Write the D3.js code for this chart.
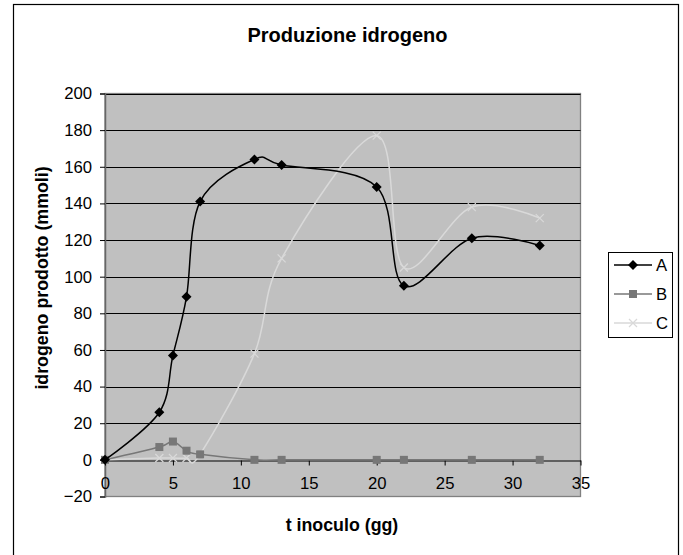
<!DOCTYPE html>
<html><head><meta charset="utf-8">
<script src="https://cdn.jsdelivr.net/npm/d3@7/dist/d3.min.js"></script>
<style>body{margin:0;background:#fff}svg{display:block}text{font-family:"Liberation Sans",Arial,sans-serif}</style>
</head><body><svg id="c" width="683" height="555"></svg>
<script>
const xValues = [0, 4, 5, 6, 7, 11, 13, 20, 22, 27, 32];
const seriesA = [0, 26, 57, 89, 141, 164, 161, 149, 95, 121, 117];
const seriesB = [0, 7, 10, 5, 3, 0, 0, 0, 0, 0, 0];
const seriesC = [0, 1, 1, 1, 3, 58, 110, 177, 105, 138, 132];
const seriesNames = ["A", "B", "C"];
const xTicks = [0, 5, 10, 15, 20, 25, 30, 35];
const yTicks = [-20, 0, 20, 40, 60, 80, 100, 120, 140, 160, 180, 200];
const title = "Produzione idrogeno";
const xTitle = "t inoculo (gg)";
const yTitle = "idrogeno prodotto (mmoli)";

const svg = d3.select("#c");
const P = {l:105, r:580.5, t:93.5, b:496.5};
const x = d3.scaleLinear().domain([0,35]).range([P.l,P.r]);
const y = d3.scaleLinear().domain([-20,200]).range([P.b,P.t]);

// outer border
svg.append("rect").attr("x",13.5).attr("y",4.5).attr("width",665).attr("height",600)
  .attr("fill","#fff").attr("stroke","#000").attr("stroke-width",1.2);

// plot area
svg.append("rect").attr("x",P.l).attr("y",P.t).attr("width",P.r-P.l).attr("height",P.b-P.t)
  .attr("fill","#c0c0c0").attr("stroke","#808080").attr("stroke-width",1.3);

// gridlines
svg.append("g").selectAll("line").data(yTicks.filter(d=>d>-20 && d!==0)).join("line")
  .attr("x1",P.l).attr("x2",P.r).attr("y1",d=>Math.round(y(d))+0.5).attr("y2",d=>Math.round(y(d))+0.5)
  .attr("stroke","#000").attr("stroke-width",1);

// y axis
const yAxis = d3.axisLeft(y).tickValues(yTicks).tickSize(5).tickPadding(8);
const gy = svg.append("g").attr("transform",`translate(${P.l},0)`).call(yAxis);
gy.select(".domain").attr("stroke","#666").attr("stroke-width",1.5);
gy.selectAll(".tick line").attr("stroke","#000");
gy.selectAll("text").attr("font-size",16.7).attr("fill","#000").attr("font-family","Liberation Sans, Arial");

// x axis at y=0
const xAxis = d3.axisBottom(x).tickValues(xTicks).tickSize(5).tickPadding(12).tickSizeOuter(0);
const gx = svg.append("g").attr("transform",`translate(0,${Math.round(y(0))+0.5})`).call(xAxis);
gx.select(".domain").attr("stroke","#000");
gx.selectAll(".tick line").attr("stroke","#000");
gx.selectAll("text").attr("font-size",16.7).attr("fill","#000").attr("font-family","Liberation Sans, Arial");

const colors = ["#000000","#777777","#d9d9d9"];
const curve = d3.curveCardinal.tension(0);
const data = [seriesA, seriesB, seriesC].map(s => xValues.map((xv,i)=>[xv,s[i]]));
const line = d3.line().x(d=>x(d[0])).y(d=>y(d[1])).curve(curve);

function marker(g, k, cx, cy){
  if(k===0){
    g.append("path").attr("d",`M${cx},${cy-5}L${cx+5},${cy}L${cx},${cy+5}L${cx-5},${cy}Z`).attr("fill",colors[0]);
  } else if(k===1){
    g.append("rect").attr("x",cx-4).attr("y",cy-4).attr("width",8).attr("height",8).attr("fill",colors[1]);
  } else {
    g.append("path").attr("d",`M${cx-4},${cy-4}L${cx+4},${cy+4}M${cx+4},${cy-4}L${cx-4},${cy+4}`)
      .attr("stroke",colors[2]).attr("stroke-width",1.2);
  }
}

[2,1,0].forEach(k=>{
  const g = svg.append("g");
  g.append("path").datum(data[k]).attr("d",line).attr("fill","none").attr("stroke",colors[k]).attr("stroke-width",1.5);
  data[k].forEach(d=>marker(g,k,x(d[0]),y(d[1])));
});

// legend
svg.append("rect").attr("x",608.5).attr("y",252.5).attr("width",64).attr("height",85)
  .attr("fill","#fff").attr("stroke","#000").attr("stroke-width",1);
seriesNames.forEach((n,k)=>{
  const ly = 265 + k*29;
  const g = svg.append("g");
  g.append("line").attr("x1",614).attr("x2",652).attr("y1",ly).attr("y2",ly).attr("stroke",colors[k]).attr("stroke-width",1.5);
  marker(g,k,633,ly);
  g.append("text").attr("x",656).attr("y",ly+6).attr("font-size",16.7).text(n);
});

// titles
svg.append("text").attr("x",347.5).attr("y",42).attr("text-anchor","middle").attr("font-weight","bold")
  .attr("font-size",20).text(title);
svg.append("text").attr("x",342).attr("y",531).attr("text-anchor","middle").attr("font-weight","bold")
  .attr("font-size",17.8).text(xTitle);
svg.append("text").attr("transform","translate(48,278) rotate(-90)").attr("text-anchor","middle").attr("font-weight","bold")
  .attr("font-size",17.8).text(yTitle);
</script></body></html>
